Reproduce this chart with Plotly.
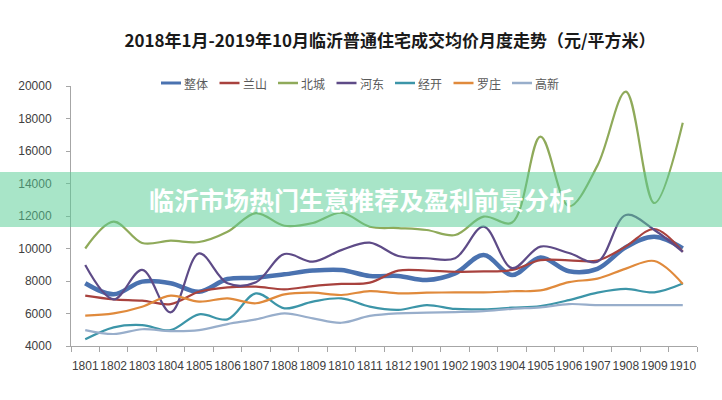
import plotly.graph_objects as go

months = ["1801", "1802", "1803", "1804", "1805", "1806", "1807", "1808", "1809", "1810", "1811",
          "1812", "1901", "1902", "1903", "1904", "1905", "1906", "1907", "1908", "1909", "1910"]

zhengti = [7860, 7180, 7960, 7860, 7340, 8120, 8200, 8410, 8640, 8680, 8310,
           8310, 8060, 8470, 9600, 8370, 9450, 8600, 8750, 10080, 10720, 10010]
lanshan = [7100, 6870, 6790, 6580, 7340, 7610, 7650, 7490, 7690, 7820, 7900,
           8640, 8640, 8570, 8590, 8680, 9280, 9270, 9260, 10130, 11200, 9800]
beicheng = [10000, 11650, 10340, 10480, 10400, 11030, 12180, 11400, 11570, 12200, 11340,
            11260, 11140, 10830, 11960, 11600, 16880, 12600, 15100, 19650, 12800, 17740]
hedong = [8980, 6870, 8680, 6070, 9700, 7860, 7920, 9660, 9190, 9900, 10360,
          9540, 9400, 9400, 11350, 8790, 10120, 9720, 9190, 12060, 11140, 9790]
jingkai = [4410, 5150, 5290, 4980, 5950, 5640, 7240, 6320, 6730, 6930, 6420,
           6220, 6520, 6280, 6260, 6360, 6460, 6820, 7280, 7510, 7300, 7840]
luozhuang = [5870, 6010, 6420, 7100, 6730, 6930, 6630, 7180, 7280, 7140, 7380,
             7240, 7280, 7300, 7300, 7370, 7420, 7930, 8150, 8760, 9230, 7820]
gaoxin = [4980, 4740, 5030, 4920, 4980, 5350, 5640, 6010, 5700, 5430, 5850,
          6010, 6050, 6090, 6150, 6290, 6380, 6580, 6520, 6520, 6520, 6520]

series_names = ["整体", "兰山", "北城", "河东", "经开", "罗庄", "高新"]
series_values = [zhengti, lanshan, beicheng, hedong, jingkai, luozhuang, gaoxin]
series_colors = ["#4A72B0", "#A8423E", "#8FAA5A", "#5E4B87", "#3C95A8", "#E08A3C", "#98AECB"]
series_widths = [4.5, 2.2, 2.2, 2.2, 2.2, 2.2, 2.2]

title_text = "2018年1月-2019年10月临沂普通住宅成交均价月度走势（元/平方米）"
banner_text = "临沂市场热门生意推荐及盈利前景分析"

W, H = 722, 400
L, R, T, B = 71, 697, 86, 346  # plot area in pixels

def px_x(x):
    return (x - L) / (R - L)

def px_y(y):
    return (B - y) / (B - T)

fig = go.Figure()
for name, vals, col, w in zip(series_names, series_values, series_colors, series_widths):
    fig.add_trace(go.Scatter(
        x=months, y=vals, name=name, mode="lines",
        line=dict(color=col, width=w, shape="spline", smoothing=1.0),
        showlegend=False, hoverinfo="x+y+name"))

shapes = []
annotations = []

# manual legend
leg_y = px_y(83)
for i, (name, col, w) in enumerate(zip(series_names, series_colors, series_widths)):
    x0 = 161 + i * 58.5
    shapes.append(dict(type="line", xref="paper", yref="paper",
                       x0=px_x(x0), x1=px_x(x0 + 20), y0=leg_y, y1=leg_y,
                       line=dict(color=col, width=3 if i == 0 else 2.5)))
    annotations.append(dict(text=name, xref="paper", yref="paper",
                            x=px_x(x0 + 21), y=leg_y, xanchor="left", yanchor="middle",
                            showarrow=False,
                            font=dict(family="Noto Sans CJK SC", size=12, color="#595959")))

# banner
shapes.append(dict(type="rect", xref="paper", yref="paper", layer="above",
                   x0=px_x(0), x1=px_x(W), y0=px_y(227), y1=px_y(172),
                   fillcolor="rgba(88,205,150,0.52)", line=dict(width=0)))
annotations.append(dict(text="<b>" + banner_text + "</b>", xref="paper", yref="paper",
                        x=px_x(361), y=px_y(199), xanchor="center", yanchor="middle",
                        showarrow=False,
                        font=dict(family="Noto Sans CJK SC", size=25, color="white")))

fig.update_layout(
    width=W, height=H,
    margin=dict(l=L, r=W - R, t=T, b=H - B, autoexpand=False),
    paper_bgcolor="white", plot_bgcolor="white",
    title=dict(text="<b>" + title_text + "</b>", x=390 / W, xanchor="center",
               y=1 - 41 / H, yanchor="middle", yref="container",
               font=dict(family="Noto Sans CJK SC", size=17, color="#1A1A1A")),
    showlegend=False,
    shapes=shapes,
    annotations=annotations,
)

fig.update_xaxes(type="category", range=[-0.5, len(months) - 0.5],
                 tickson="boundaries", ticks="outside", ticklen=5,
                 tickcolor="#A6A6A6", showline=True, linecolor="#A6A6A6", linewidth=1,
                 showgrid=False, zeroline=False, ticklabelstandoff=9, tickangle=0,
                 automargin=False,
                 tickfont=dict(family="Liberation Sans, Arial", size=12, color="#404040"))
fig.update_yaxes(range=[4000, 20000], dtick=2000, tickformat="d", ticks="outside", ticklen=4,
                 tickcolor="#A6A6A6", showline=True, linecolor="#A6A6A6", linewidth=1,
                 showgrid=False, zeroline=False, ticklabelstandoff=12, automargin=False,
                 tickfont=dict(family="Liberation Sans, Arial", size=12, color="#404040"))

fig.write_html("out.html", config={"displayModeBar": False},
               post_script="document.body.style.margin='0';document.body.style.overflow='hidden';")
